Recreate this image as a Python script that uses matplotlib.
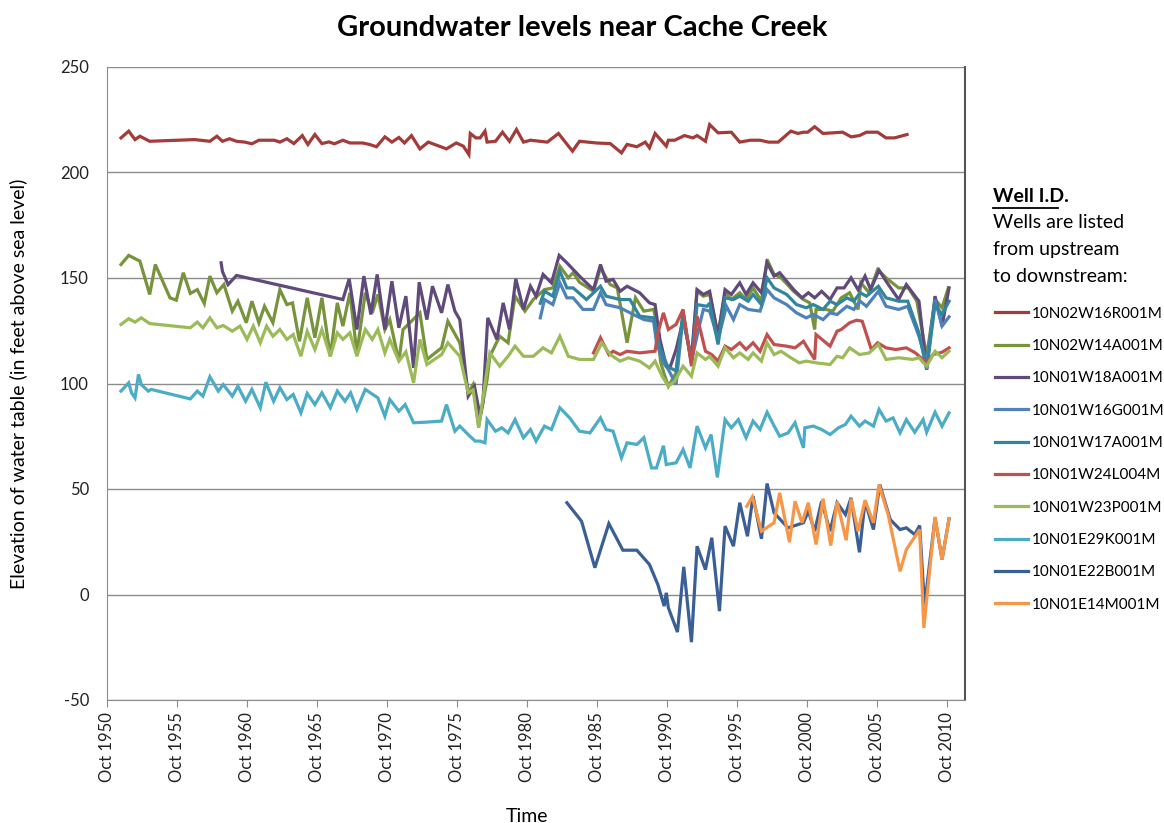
import matplotlib
matplotlib.use("Agg")
import matplotlib.pyplot as plt
from matplotlib.lines import Line2D

plt.rcParams["font.family"] = ["Lato", "DejaVu Sans"]
plt.rcParams["axes.unicode_minus"] = False

# well 10N02W16R001M
r16_yr = [1951.75, 1952.3, 1952.75, 1953.1, 1953.8, 1957.0, 1958.1, 1958.6, 1959.0, 1959.5,
          1960.0, 1960.6, 1961.1, 1961.6, 1962.7, 1963.1, 1963.6, 1964.1, 1964.7, 1965.1,
          1965.6, 1966.1, 1966.6, 1967.0, 1967.6, 1968.1, 1969.0, 1969.5, 1970.0, 1970.6,
          1971.1, 1971.6, 1972.0, 1972.5, 1973.1, 1973.7, 1975.0, 1975.7, 1976.2, 1976.6,
          1976.7, 1977.1, 1977.4, 1977.75, 1977.9, 1978.5, 1979.0, 1979.5, 1980.0, 1980.5,
          1981.0, 1982.2, 1983.0, 1984.0, 1984.5, 1985.7, 1986.7, 1987.5, 1987.9, 1988.6,
          1989.2, 1989.5, 1989.9, 1990.7, 1990.85, 1991.3, 1992.0, 1992.6, 1992.9, 1993.5,
          1993.8, 1994.4, 1995.35, 1995.95, 1996.7, 1997.4, 1998.0, 1998.7, 1999.6, 2000.1,
          2000.5, 2000.8, 2001.3, 2001.9, 2003.3, 2003.9, 2004.5, 2005.0, 2005.8, 2006.4,
          2007.0, 2007.9]
r16_ft = [216.4, 219.6, 215.6, 217.2, 214.8, 215.6, 214.8, 217.2, 214.8, 216.0,
          214.8, 214.4, 213.6, 215.3, 215.3, 214.4, 216.0, 213.7, 217.5, 213.3,
          218.0, 213.7, 214.5, 213.6, 215.3, 214.0, 214.0, 213.3, 212.2, 216.9,
          214.4, 216.6, 214.0, 217.5, 211.2, 214.4, 211.2, 214.0, 212.5, 208.5,
          218.5, 216.4, 216.4, 219.6, 214.4, 214.8, 219.1, 214.8, 220.4, 214.4,
          215.3, 214.4, 218.5, 210.1, 214.8, 214.0, 213.7, 209.3, 213.3, 212.2,
          214.4, 211.7, 218.5, 212.5, 215.3, 215.3, 217.5, 216.4, 217.5, 214.8,
          222.7, 218.8, 219.1, 214.4, 215.3, 215.3, 214.4, 214.4, 219.6, 218.5,
          219.1, 219.1, 221.7, 218.5, 219.1, 216.9, 217.5, 219.1, 219.1, 216.4,
          216.4, 218.0]

# well 10N02W14A001M
a14_yr = [1951.75, 1952.3, 1953.1, 1953.8, 1954.2, 1955.25, 1955.7, 1956.2, 1956.7, 1957.2,
          1957.7, 1958.1, 1958.6, 1959.1, 1959.7, 1960.1, 1960.7, 1961.1, 1961.6, 1962.0,
          1962.6, 1963.1, 1963.6, 1964.0, 1964.5, 1965.05, 1965.6, 1966.1, 1966.7, 1967.2,
          1967.6, 1968.1, 1968.6, 1969.2, 1969.7, 1970.1, 1970.6, 1970.95, 1971.6, 1971.9,
          1973.1, 1973.6, 1974.65, 1975.1, 1975.95, 1976.55, 1976.9, 1977.3, 1977.9, 1978.1,
          1978.8, 1979.4, 1979.9, 1980.6, 1981.2, 1982.0, 1982.6, 1983.1, 1983.7, 1984.05,
          1984.5, 1985.5, 1986.0, 1986.7, 1987.2, 1987.9, 1988.5, 1989.1, 1989.8, 1990.0,
          1990.3, 1990.6, 1990.85, 1991.4, 1991.9, 1992.5, 1992.9, 1993.35, 1993.8, 1994.4,
          1994.9, 1995.35, 1995.95, 1996.4, 1996.9, 1997.5, 1997.9, 1998.4, 1998.9, 1999.8,
          2000.5, 2000.95, 2001.3, 2001.4, 2002.1, 2002.6, 2003.2, 2003.8, 2004.4, 2004.6,
          2005.2, 2005.8, 2006.4, 2007.3, 2008.0, 2008.6, 2009.3, 2009.9, 2010.4, 2010.85]
a14_ft = [156.4, 160.7, 158.0, 142.2, 156.4, 140.6, 139.5, 152.5, 142.7, 144.5,
          137.9, 150.9, 143.0, 146.9, 134.3, 139.0, 128.8, 139.0, 128.8, 136.6,
          128.8, 144.5, 137.4, 138.2, 120.0, 140.6, 121.7, 140.6, 112.9, 138.2,
          127.2, 143.0, 114.5, 143.0, 133.5, 142.2, 125.6, 130.3, 110.6, 125.6,
          133.5, 111.4, 116.9, 129.5, 119.3, 95.6, 99.5, 79.8, 101.9, 112.9,
          122.4, 119.3, 141.4, 134.3, 139.8, 144.5, 145.3, 155.6, 150.1, 152.5,
          148.0, 143.7, 154.8, 146.9, 145.3, 119.3, 140.6, 134.3, 135.1, 128.8,
          110.0, 103.5, 98.7, 105.0, 133.5, 109.8, 143.7, 141.4, 142.2, 123.2,
          143.0, 139.8, 143.0, 139.8, 145.3, 139.0, 158.8, 151.7, 150.1, 143.7,
          139.8, 138.2, 125.6, 135.1, 135.1, 134.3, 140.6, 143.0, 135.1, 147.7,
          143.0, 154.0, 150.1, 145.3, 145.3, 139.0, 112.9, 139.8, 135.9, 145.3]

# well 10N01W18A001M
a18_yr = [1958.9, 1959.0, 1959.4, 1960.0, 1967.6, 1968.05, 1968.6, 1969.1, 1969.6, 1970.05,
          1970.6, 1971.1, 1971.6, 1972.1, 1972.65, 1973.05, 1973.6, 1974.0, 1974.65, 1975.1,
          1975.6, 1975.95, 1976.55, 1977.0, 1977.4, 1977.6, 1977.95, 1978.6, 1979.05, 1979.5,
          1979.95, 1980.5, 1981.0, 1981.4, 1981.9, 1982.5, 1983.05, 1983.6, 1984.5, 1985.5,
          1986.0, 1986.4, 1986.9, 1987.4, 1987.9, 1988.8, 1989.5, 1989.9, 1990.25, 1990.7,
          1991.0, 1991.4, 1991.9, 1992.5, 1992.9, 1993.35, 1993.8, 1994.4, 1994.9, 1995.35,
          1995.95, 1996.4, 1996.9, 1997.5, 1997.9, 1998.4, 1998.8, 1999.8, 2000.4, 2000.85,
          2001.3, 2001.8, 2002.4, 2002.9, 2003.4, 2003.9, 2004.4, 2004.9, 2005.3, 2005.9,
          2006.4, 2007.3, 2007.85, 2008.75, 2009.3, 2009.9, 2010.4, 2010.9]
a18_ft = [157.2, 153.0, 146.9, 151.2, 139.8, 149.6, 125.6, 150.9, 132.7, 151.7,
          125.6, 148.5, 126.4, 141.4, 107.4, 148.0, 130.3, 146.1, 133.5, 146.9,
          134.3, 130.3, 94.0, 98.7, 84.5, 90.9, 131.1, 120.9, 138.2, 125.6,
          149.6, 135.1, 146.1, 141.4, 151.7, 147.7, 160.7, 157.2, 150.9, 144.5,
          156.4, 148.5, 149.3, 143.7, 146.1, 143.0, 138.2, 137.4, 120.9, 108.2,
          108.2, 116.1, 130.0, 112.0, 144.5, 142.2, 143.7, 122.4, 144.5, 142.2,
          147.7, 142.2, 147.7, 143.0, 157.2, 150.9, 152.5, 144.5, 140.6, 143.0,
          140.6, 143.7, 139.8, 145.3, 145.3, 150.1, 144.5, 150.9, 144.5, 153.7,
          148.5, 139.8, 146.9, 139.0, 106.6, 141.4, 127.2, 145.3]

# well 10N01W16G001M
g16_yr = [1981.7, 1982.0, 1982.6, 1983.1, 1983.6, 1984.05, 1984.75, 1985.5, 1986.0, 1986.4,
          1987.4, 1988.35, 1989.1, 1989.8, 1990.0, 1990.5, 1990.85, 1991.4, 1991.9, 1992.5,
          1993.0, 1993.35, 1993.8, 1994.4, 1995.0, 1995.5, 1995.95, 1996.55, 1997.4, 1997.9,
          1998.4, 1999.3, 2000.0, 2000.7, 2001.2, 2001.9, 2002.4, 2002.9, 2003.6, 2004.1,
          2004.55, 2005.0, 2005.85, 2006.4, 2007.3, 2007.95, 2008.75, 2009.3, 2009.9, 2010.4,
          2010.9]
g16_ft = [131.1, 139.8, 137.4, 147.7, 140.6, 140.6, 135.1, 135.1, 143.0, 137.4,
          135.9, 132.7, 130.3, 129.5, 119.3, 109.8, 106.6, 99.5, 131.9, 110.6,
          125.6, 135.1, 134.3, 120.9, 136.6, 130.3, 137.4, 135.1, 134.3, 144.5,
          140.6, 137.4, 133.5, 131.1, 132.7, 130.3, 133.5, 132.7, 136.6, 135.1,
          139.0, 136.6, 143.7, 136.6, 135.1, 136.6, 122.4, 109.8, 139.8, 127.2,
          131.6]

# well 10N01W17A001M
a17_yr = [1981.7, 1982.0, 1982.6, 1983.1, 1983.6, 1984.05, 1985.0, 1986.0, 1986.4, 1987.4,
          1988.1, 1988.8, 1989.8, 1990.25, 1990.8, 1991.4, 1991.9, 1992.5, 1992.9, 1993.6,
          1993.8, 1994.4, 1994.9, 1995.5, 1995.95, 1996.55, 1996.9, 1997.5, 1997.9, 1998.4,
          1999.3, 2000.0, 2000.7, 2001.2, 2001.9, 2002.4, 2002.9, 2003.6, 2004.1, 2004.55,
          2005.0, 2005.85, 2006.4, 2007.3, 2007.95, 2008.75, 2009.3, 2009.9, 2010.4, 2010.9]
a17_ft = [138.0, 143.7, 141.4, 153.2, 145.3, 145.3, 139.8, 146.1, 141.4, 139.8,
          139.8, 131.9, 131.1, 116.9, 108.0, 106.0, 133.5, 109.8, 137.4, 136.6,
          138.0, 118.5, 140.6, 139.8, 141.4, 139.0, 142.2, 137.4, 150.1, 145.3,
          142.2, 137.4, 135.9, 137.4, 135.1, 139.0, 137.4, 140.6, 139.0, 143.0,
          141.4, 146.1, 140.6, 139.0, 139.0, 124.0, 106.6, 137.4, 132.7, 139.0]

# well 10N01W24L004M
l24_yr = [1985.5, 1986.0, 1986.6, 1986.9, 1987.4, 1987.9, 1988.8, 1989.9, 1990.1, 1990.5,
          1990.85, 1991.4, 1991.9, 1992.5, 1992.9, 1993.5, 1993.95, 1994.4, 1994.9, 1995.35,
          1995.95, 1996.4, 1996.9, 1997.4, 1997.9, 1998.4, 1999.3, 1999.9, 2000.5, 2001.3,
          2001.4, 2002.4, 2002.9, 2003.2, 2003.8, 2004.3, 2004.7, 2005.35, 2005.8, 2006.4,
          2007.1, 2007.85, 2008.5, 2009.3, 2009.75, 2010.4, 2010.9]
l24_ft = [114.5, 121.7, 113.7, 115.3, 113.7, 115.3, 114.5, 115.3, 124.0, 133.5,
          125.6, 128.0, 135.1, 108.2, 131.9, 115.3, 113.7, 110.6, 117.7, 116.1,
          119.3, 116.1, 119.3, 115.3, 123.2, 118.5, 117.7, 116.9, 120.0, 111.4,
          123.2, 117.7, 124.8, 125.6, 128.8, 130.0, 129.5, 116.1, 119.3, 116.9,
          116.1, 116.9, 114.5, 109.8, 113.7, 114.8, 116.9]

# well 10N01W23P001M
p23_yr = [1951.75, 1952.3, 1952.75, 1953.2, 1953.8, 1956.7, 1957.2, 1957.6, 1958.1, 1958.6,
          1959.05, 1959.7, 1960.25, 1960.75, 1961.2, 1961.7, 1962.15, 1962.6, 1963.1, 1963.6,
          1964.05, 1964.6, 1965.05, 1965.6, 1966.1, 1966.7, 1967.2, 1967.6, 1968.1, 1968.6,
          1969.2, 1969.7, 1970.1, 1970.6, 1970.95, 1971.6, 1972.1, 1972.65, 1973.1, 1973.6,
          1974.65, 1975.1, 1975.95, 1976.55, 1976.9, 1977.3, 1977.9, 1978.1, 1978.8, 1979.4,
          1979.9, 1980.5, 1981.2, 1981.9, 1982.5, 1983.1, 1983.7, 1984.5, 1985.5, 1986.1,
          1986.7, 1987.4, 1988.0, 1988.8, 1989.5, 1989.9, 1990.4, 1990.85, 1991.3, 1991.9,
          1992.5, 1992.9, 1993.5, 1993.8, 1994.4, 1994.9, 1995.5, 1995.95, 1996.55, 1996.9,
          1997.5, 1997.9, 1998.4, 1998.9, 1999.6, 2000.2, 2000.7, 2001.4, 2002.4, 2002.9,
          2003.3, 2003.8, 2004.5, 2005.2, 2005.85, 2006.4, 2007.3, 2008.3, 2008.75, 2009.3,
          2009.9, 2010.4, 2010.9]
p23_ft = [128.0, 130.7, 129.1, 131.1, 128.4, 126.4, 129.1, 126.4, 131.1, 126.4,
          127.5, 124.8, 127.2, 120.9, 127.2, 119.3, 127.2, 122.4, 125.6, 120.9,
          123.2, 112.9, 124.8, 116.1, 125.6, 112.9, 124.0, 120.9, 124.0, 112.9,
          125.6, 120.9, 125.6, 114.5, 120.9, 110.6, 115.0, 100.3, 120.9, 109.0,
          113.7, 119.3, 112.9, 95.6, 97.0, 79.0, 106.6, 114.5, 108.2, 112.9,
          117.7, 112.9, 112.9, 116.9, 114.5, 122.4, 112.9, 111.4, 111.4, 119.3,
          113.7, 110.6, 112.2, 110.6, 107.4, 110.6, 103.5, 98.7, 101.1, 108.2,
          103.5, 114.5, 111.4, 112.9, 108.2, 116.9, 112.2, 114.5, 111.4, 114.5,
          110.6, 119.3, 113.7, 115.3, 112.2, 109.8, 110.6, 109.8, 109.0, 112.9,
          112.2, 116.9, 113.7, 114.5, 118.5, 111.4, 112.2, 111.4, 112.2, 108.2,
          115.3, 112.2, 115.3]

# well 10N01E29K001M
k29_yr = [1951.75, 1952.3, 1952.5, 1952.75, 1953.0, 1953.2, 1953.7, 1953.9, 1956.7, 1957.2,
          1957.6, 1958.1, 1958.7, 1959.05, 1959.7, 1960.1, 1960.65, 1961.1, 1961.7, 1962.1,
          1962.65, 1963.1, 1963.6, 1964.05, 1964.6, 1965.05, 1965.6, 1966.1, 1966.7, 1967.2,
          1967.75, 1968.15, 1968.6, 1969.2, 1970.1, 1970.6, 1970.95, 1971.6, 1972.05, 1972.65,
          1973.6, 1974.65, 1975.0, 1975.6, 1975.95, 1976.55, 1977.05, 1977.4, 1977.75, 1977.9,
          1978.5, 1978.95, 1979.4, 1979.9, 1980.5, 1981.0, 1981.4, 1982.0, 1982.5, 1983.1,
          1983.8, 1984.5, 1985.25, 1986.0, 1986.4, 1986.9, 1987.5, 1987.9, 1988.6, 1989.1,
          1989.65, 1990.0, 1990.5, 1990.7, 1991.4, 1991.9, 1992.4, 1992.9, 1993.5, 1993.9,
          1994.35, 1994.9, 1995.35, 1995.85, 1996.4, 1996.9, 1997.4, 1997.9, 1998.35, 1998.8,
          1999.4, 1999.9, 2000.5, 2000.6, 2001.2, 2001.8, 2002.4, 2003.0, 2003.5, 2003.9,
          2004.5, 2004.9, 2005.5, 2005.9, 2006.4, 2006.9, 2007.4, 2007.85, 2008.45, 2009.05,
          2009.3, 2009.9, 2010.4, 2010.9]
k29_ft = [96.4, 100.3, 95.6, 93.2, 104.3, 99.5, 96.4, 97.2, 92.7, 96.4,
          94.0, 103.2, 96.4, 99.5, 94.0, 98.7, 91.6, 97.2, 88.5, 100.6,
          91.6, 98.0, 92.4, 94.8, 86.1, 95.3, 90.0, 95.6, 88.5, 96.4,
          91.6, 95.6, 87.7, 97.2, 93.2, 84.5, 92.4, 86.9, 90.0, 81.4,
          81.7, 82.2, 90.0, 77.4, 79.8, 75.8, 72.7, 72.7, 71.9, 82.9,
          77.4, 79.0, 76.6, 82.9, 74.3, 78.2, 72.7, 79.8, 78.2, 88.5,
          83.7, 77.4, 76.6, 83.7, 78.2, 77.4, 64.8, 71.9, 71.1, 74.3,
          60.0, 60.0, 70.5, 61.6, 62.4, 68.7, 60.0, 79.8, 69.5, 75.8,
          55.5, 82.9, 79.0, 82.9, 74.3, 82.2, 78.2, 86.4, 80.6, 75.0,
          76.6, 81.4, 69.5, 79.0, 79.8, 78.2, 75.8, 79.0, 80.6, 84.5,
          79.8, 82.2, 79.8, 87.7, 82.2, 83.7, 76.6, 82.9, 76.9, 82.9,
          76.9, 86.4, 79.8, 86.1]

# well 10N01E22B001M
b22_yr = [1983.6, 1984.65, 1985.6, 1986.6, 1987.6, 1988.6, 1989.5, 1990.1, 1990.55, 1990.7,
          1990.85, 1991.5, 1991.95, 1992.5, 1992.9, 1993.5, 1993.95, 1994.5, 1994.9, 1995.5,
          1995.95, 1996.5, 1996.9, 1997.5, 1997.9, 1998.4, 1999.4, 2000.5, 2000.85, 2001.3,
          2001.8, 2002.4, 2002.9, 2003.5, 2003.9, 2004.5, 2004.9, 2005.5, 2005.95, 2006.7,
          2007.4, 2007.85, 2008.45, 2008.8, 2009.15, 2009.9, 2010.4, 2010.9]
b22_ft = [43.5, 34.7, 12.7, 33.6, 21.0, 21.0, 14.2, 4.7, -5.5, 0.8,
          -6.3, -17.8, 13.1, -22.6, 22.9, 11.8, 26.9, -7.9, 32.4, 22.9,
          43.5, 27.6, 46.6, 26.4, 52.6, 38.7, 31.6, 34.0, 39.5, 30.0,
          44.2, 30.0, 43.5, 37.9, 45.8, 20.0, 44.2, 30.8, 52.1, 35.5,
          30.8, 31.6, 28.4, 32.7, -5.5, 36.3, 16.6, 35.9]

# well 10N01E14M001M
m14_yr = [1996.45, 1996.85, 1997.5, 1998.4, 1998.8, 1999.5, 1999.9, 2000.4, 2000.85, 2001.4,
          2001.9, 2002.45, 2002.9, 2003.55, 2003.9, 2004.4, 2004.9, 2005.5, 2005.9, 2006.55,
          2007.4, 2007.85, 2008.8, 2009.1, 2009.9, 2010.4, 2010.9]
m14_ft = [41.8, 46.3, 30.0, 34.0, 48.2, 24.8, 44.2, 34.0, 43.5, 23.7,
          45.4, 23.2, 44.2, 25.7, 45.4, 30.0, 44.7, 34.0, 52.1, 37.9,
          11.0, 21.3, 30.8, -15.8, 36.8, 16.6, 35.9]

wells = ["10N02W16R001M", "10N02W14A001M", "10N01W18A001M", "10N01W16G001M",
         "10N01W17A001M", "10N01W24L004M", "10N01W23P001M", "10N01E29K001M",
         "10N01E22B001M", "10N01E14M001M"]
colors = ["#A23B3A", "#77933C", "#604A7B", "#4F81BD", "#31859C",
          "#C0504D", "#9BBB59", "#4BACC6", "#3A5F96", "#F79646"]
series = [(r16_yr, r16_ft), (a14_yr, a14_ft), (a18_yr, a18_ft), (g16_yr, g16_ft),
          (a17_yr, a17_ft), (l24_yr, l24_ft), (p23_yr, p23_ft), (k29_yr, k29_ft),
          (b22_yr, b22_ft), (m14_yr, m14_ft)]

tick_years = list(range(1950, 2011, 5))

fig = plt.figure(figsize=(11.64, 8.23), dpi=100)
ax = fig.add_axes([107 / 1164, 1 - 700 / 823, 858 / 1164, 633 / 823])

for (yr, ft), name, c in zip(series, wells, colors):
    ax.plot(yr, ft, color=c, lw=2.3, label=name, solid_joinstyle="miter")

ax.set_xlim(1950.75, 2012.04)
ax.set_ylim(-50, 250)
ax.set_yticks(range(-50, 251, 50))
ax.set_xticks([y + 0.75 for y in tick_years])
ax.set_xticklabels(["Oct %d" % y for y in tick_years], rotation=90)
ax.yaxis.grid(True, color="#8c8c8c", lw=1)
ax.set_axisbelow(True)
ax.tick_params(axis="y", length=0, labelsize=12, pad=13, colors="#222222")
ax.tick_params(axis="x", length=5, labelsize=12, pad=4, colors="#222222", color="#8c8c8c")
ax.spines["top"].set_visible(False)
ax.spines["left"].set_color("#8c8c8c")
ax.spines["bottom"].set_color("#8c8c8c")
ax.spines["right"].set_color("#555555")
ax.spines["right"].set_linewidth(1.5)

fig.text(582 / 1164, 1 - 28 / 823, "Groundwater levels near Cache Creek",
         ha="center", va="center", fontsize=21, fontweight="bold")
fig.text(18 / 1164, 1 - 384 / 823, "Elevation of water table (in feet above sea level)",
         rotation=90, ha="center", va="center", fontsize=14)
fig.text(527 / 1164, 1 - 816 / 823, "Time", ha="center", va="center", fontsize=14)

# legend header
fig.text(993 / 1164, 1 - 196 / 823, "Well I.D.", ha="left", va="center",
         fontsize=14, fontweight="bold")
fig.add_artist(Line2D([993 / 1164, 1058 / 1164], [1 - 208 / 823, 1 - 208 / 823],
                      color="black", lw=1.3, transform=fig.transFigure))
for i, line in enumerate(["Wells are listed", "from upstream", "to downstream:"]):
    fig.text(993 / 1164, 1 - (223 + 26.5 * i) / 823, line, ha="left", va="center",
             fontsize=14)

ax.legend(loc="upper left", bbox_to_anchor=(981 / 1164, 1 - 293 / 823),
          bbox_transform=fig.transFigure, frameon=False, fontsize=11,
          handlelength=2.2, handletextpad=0.25, labelspacing=1.2)

fig.savefig("out.png", dpi=100)
